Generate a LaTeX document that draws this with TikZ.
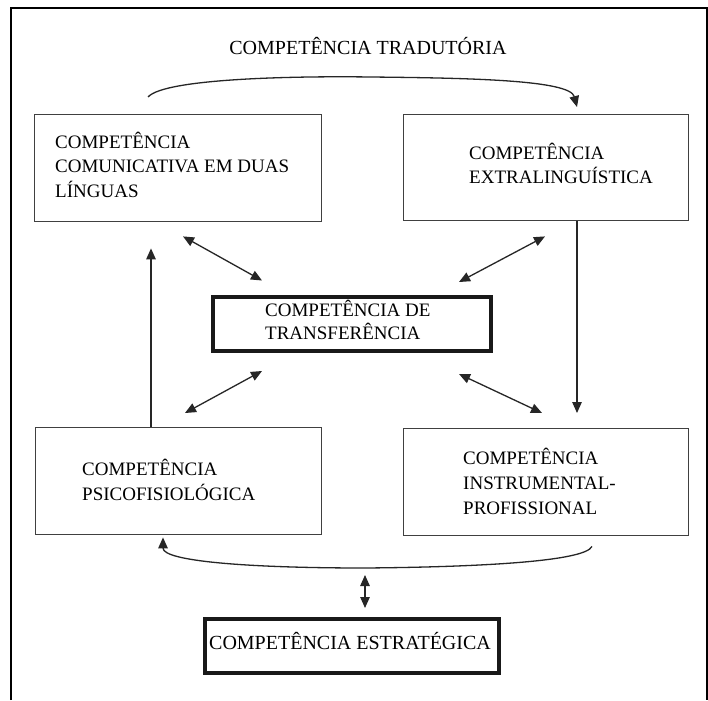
\documentclass[tikz,border=0pt]{standalone}
\usepackage{fontspec}
\setmainfont{Liberation Serif}
\usetikzlibrary{arrows.meta,calc}
\begin{document}
\begin{tikzpicture}[x=1pt,y=-1pt,
  box/.style={draw=black!75,line width=1.4pt,anchor=north west,inner sep=0pt},
  keybox/.style={draw=black!90,line width=4pt,anchor=north west,inner sep=0pt},
  lbl/.style={anchor=base west,align=left,inner sep=0pt,font=\fontsize{19}{24.5}\selectfont},
  link/.style={draw=black!85,line width=1.3pt},
  tip/.style={-{Triangle[length=11pt,width=9.5pt]}},
  both/.style={{Triangle[length=11pt,width=9.5pt]}-{Triangle[length=11pt,width=9.5pt]}},
]
\useasboundingbox (0,0) rectangle (708,700);
\fill[white] (0,0) rectangle (708,700);
% outer frame, open at the bottom
\draw[line width=1.2pt] (11,700) -- (11,8) -- (707,8) -- (707,700);

% the six competences
\node[box,minimum width=287pt,minimum height=107pt] (cc) at (34,114) {};
\node[box,minimum width=285pt,minimum height=106pt] (ex) at (403,114) {};
\node[keybox,minimum width=278pt,minimum height=54pt] (tr) at (211,294.5) {};
\node[box,minimum width=286pt,minimum height=107pt] (ps) at (35,427) {};
\node[box,minimum width=285pt,minimum height=107pt] (ip) at (403,428) {};
\node[keybox,minimum width=294pt,minimum height=54pt] (es) at (203,617) {};

% labels (anchored on the baseline of their last line)
\node[anchor=base,inner sep=0pt,font=\fontsize{20}{24}\selectfont] (title) at (368,54.5) {COMPETÊNCIA TRADUTÓRIA};
\node[lbl] (cct) at ($(cc.north west)+(21,83.5)$) {COMPETÊNCIA\\COMUNICATIVA EM DUAS\\LÍNGUAS};
\node[lbl,font=\fontsize{19}{24}\selectfont] (ext) at ($(ex.north west)+(66,69.5)$) {COMPETÊNCIA\\EXTRALINGUÍSTICA};
\node[lbl,font=\fontsize{19}{23}\selectfont] (trt) at ($(tr.north west)+(54,45)$) {COMPETÊNCIA DE\\TRANSFERÊNCIA};
\node[lbl,font=\fontsize{19}{25}\selectfont] (pst) at ($(ps.north west)+(47,73.5)$) {COMPETÊNCIA\\PSICOFISIOLÓGICA};
\node[lbl,font=\fontsize{19}{25}\selectfont] (ipt) at ($(ip.north west)+(60,86.5)$) {COMPETÊNCIA\\INSTRUMENTAL-\\PROFISSIONAL};
\node[anchor=base,inner sep=0pt,font=\fontsize{20}{24}\selectfont] (est) at ($(es.north west)+(147,32.5)$) {COMPETÊNCIA ESTRATÉGICA};

% arc over the top boxes
\draw[link,tip] ($(cc.north west)+(114,-17)$)
  .. controls +(17,-19) and (300,76) .. (370,77)
  .. controls (470,78) and ($(ex.north west)+(167,-34)$) .. ($(ex.north west)+(174,-7)$);

% arc under the bottom boxes
\draw[link,tip] ($(ip.south west)+(189,10)$)
  .. controls +(-7,15) and (480,567) .. (365,568)
  .. controls (250,568) and ($(ps.south west)+(128,26)$) .. ($(ps.south west)+(128,2)$);

% vertical links
\draw[link,tip] ($(ps.north west)+(116,0)$) -- ($(cc.south west)+(117,26)$);
\draw[link,tip] ($(ex.south west)+(174,0)$) -- ($(ip.north west)+(174,-15)$);

% two-way links with the transfer competence
\draw[link,both] ($(cc.south west)+(149,14)$) -- ($(tr.north west)+(51,-14)$);
\draw[link,both] ($(ex.south west)+(142,15)$) -- ($(tr.north east)+(-34,-12.5)$);
\draw[link,both] ($(tr.south west)+(51,18.5)$) -- ($(ps.north west)+(150,-14)$);
\draw[link,both] ($(tr.south east)+(-34,21.5)$) -- ($(ip.north west)+(139,-15)$);

% two-way link with the strategic competence
\draw[link,both] ($(es.north west)+(162,-42)$) -- ($(es.north west)+(162,-9)$);
\end{tikzpicture}
\end{document}
